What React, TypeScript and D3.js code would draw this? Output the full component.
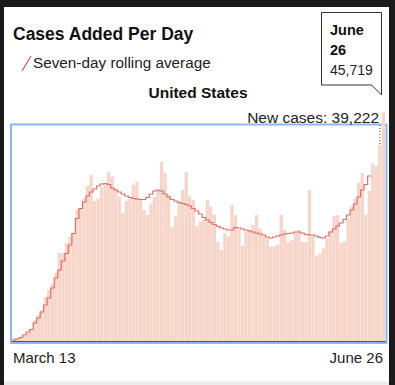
import React from 'react';
import * as d3 from 'd3';

// daily new cases (thousands), March 13 .. June 26
const dailyCases = [
  0.5, 0.6, 0.7, 1.0, 1.6, 2.2, 4.2, 5.2, 6.2, 8.8,
  10.2, 11.5, 13.6, 17.6, 17.6, 19.6, 20.8, 21.5, 26.2, 26.5,
  28.5, 31.0, 33.2, 28.0, 28.5, 30.8, 31.5, 33.8, 32.9, 30.5,
  28.9, 25.6, 28.0, 28.4, 31.2, 31.8, 28.2, 26.2, 25.2, 27.5,
  28.8, 30.2, 35.8, 33.6, 29.2, 22.8, 24.9, 27.9, 30.2, 33.8,
  28.9, 28.2, 23.0, 23.9, 24.2, 28.2, 26.9, 25.2, 19.8, 18.2,
  21.5, 20.9, 27.2, 25.2, 22.2, 19.0, 21.9, 22.2, 23.2, 25.2,
  22.5, 20.9, 20.5, 18.9, 18.9, 19.2, 25.2, 22.2, 19.8, 20.2,
  21.6, 22.2, 19.8, 19.8, 30.2, 21.0, 17.0, 17.5, 18.5, 20.5,
  22.0, 25.0, 25.2, 19.6, 19.9, 24.5, 26.9, 28.5, 31.6, 33.6,
  25.2, 30.0, 35.5, 35.0, 39.222, 45.719,
];

// seven-day rolling average (thousands), as drawn (ends a few days early)
const rollingAvg = [
  0.2, 0.4, 0.7, 1.2, 1.8, 2.3, 3.6, 4.6, 5.8, 7.2,
  8.6, 10.6, 12.6, 14.2, 16.0, 17.5, 19.2, 21.5, 24.5, 26.5,
  27.8, 29.0, 29.8, 30.4, 31.0, 31.4, 31.5, 31.3, 30.6, 30.2,
  29.8, 29.4, 29.0, 28.7, 28.5, 28.4, 28.3, 28.3, 28.7, 29.4,
  30.0, 30.2, 30.0, 29.4, 28.8, 28.3, 28.0, 27.7, 27.5, 27.3,
  27.0, 26.5, 26.0, 25.4, 24.7, 24.2, 23.7, 23.3, 22.9, 22.6,
  22.4, 22.2, 22.2, 22.7, 22.6, 22.4, 22.2, 22.0, 21.8, 21.6,
  21.4, 21.2, 20.8, 20.6, 20.8, 21.0, 21.2, 21.4, 21.5, 21.6,
  21.8, 21.8, 21.6, 21.3, 21.2, 21.2, 21.0, 20.7, 20.6, 21.0,
  21.8, 22.4, 23.0, 23.6, 24.3, 25.2, 26.2, 27.4, 28.8, 30.2,
  31.3, 33.0,
];

const xLabels = ['March 13', 'June 26'];
const hoverIndex = 104;
const hoverLabel = 'New cases: 39,222';
const tipLines = ['June', '26', '45,719'];

const FONT = '"Liberation Sans", Arial, Helvetica, sans-serif';

export default function App() {
  const W = 395;
  const H = 385;
  const left = 12;
  const right = 385;
  const top = 125;
  const bottom = 341;

  const x = d3.scaleBand<number>()
    .domain(d3.range(dailyCases.length))
    .range([left, right])
    .paddingInner(0.07);

  const y = d3.scaleLinear().domain([0, 43.2]).range([bottom, top]);

  const step = x.step();
  const linePts: [number, number][] = rollingAvg.map((v, i) => [x(i)!, y(v)]);
  const lastI = rollingAvg.length - 1;
  linePts.push([x(lastI)! + step, y(rollingAvg[lastI])]);
  const line = d3.line().curve(d3.curveStepAfter)(linePts) || '';

  const hoverX = x(hoverIndex)! + x.bandwidth() / 2;

  return (
    <svg
      width={W}
      height={H}
      style={{ position: 'absolute', left: 0, top: 0, fontFamily: FONT }}
    >
      {/* dark surround */}
      <rect x={0} y={0} width={W} height={H} fill="#1a1a1a" />
      <rect x={4} y={7} width={385} height={378} fill="#ececec" />
      <rect x={4} y={7} width={385} height={374.5} fill="#ffffff" />

      {/* header */}
      <text x={13} y={40} fontSize={17.5} fontWeight="bold" fill="#111">
        Cases Added Per Day
      </text>
      <line x1={22} y1={71} x2={31} y2={56} stroke="#e0505a" strokeWidth={1.2} />
      <text x={33} y={68} fontSize={15.3} fill="#222">
        Seven-day rolling average
      </text>
      <text x={198} y={98} fontSize={15.5} fontWeight="bold" fill="#111" textAnchor="middle">
        United States
      </text>

      {/* tooltip box */}
      <path
        d="M321.5,12.5 H381.5 V95 L371.5,85 H321.5 Z"
        fill="#fff"
        stroke="#333"
        strokeWidth={1}
      />
      <text x={330} y={35} fontSize={14.5} fontWeight="bold" fill="#111">{tipLines[0]}</text>
      <text x={330} y={55} fontSize={14.5} fontWeight="bold" fill="#111">{tipLines[1]}</text>
      <text x={330} y={75} fontSize={14} fill="#222">{tipLines[2]}</text>

      {/* plot frame */}
      <rect
        x={11}
        y={124.5}
        width={375.5}
        height={218.5}
        fill="#fff"
        stroke="#8fb6ee"
        strokeWidth={2}
      />

      {/* bars */}
      <g>
        {dailyCases.map((v, i) => (
          <rect
            key={i}
            x={x(i)}
            y={y(v)}
            width={x.bandwidth()}
            height={bottom - y(v)}
            fill="#f7d5c9"
          />
        ))}
      </g>

      <line x1={12} x2={386} y1={bottom + 0.5} y2={bottom + 0.5} stroke="#555" strokeWidth={1} />

      {/* rolling average */}
      <path d={line} fill="none" stroke="#df6f6a" strokeWidth={1.2} />

      {/* hover marker */}
      <line
        x1={hoverX}
        x2={hoverX}
        y1={top}
        y2={y(dailyCases[hoverIndex])}
        stroke="#444"
        strokeWidth={1}
        strokeDasharray="1,2"
      />
      <text x={379} y={123} fontSize={15.5} fill="#222" textAnchor="end">
        {hoverLabel}
      </text>

      {/* x labels */}
      <text x={13} y={363} fontSize={15} fill="#222">{xLabels[0]}</text>
      <text x={383} y={363} fontSize={15} fill="#222" textAnchor="end">{xLabels[1]}</text>
    </svg>
  );
}
